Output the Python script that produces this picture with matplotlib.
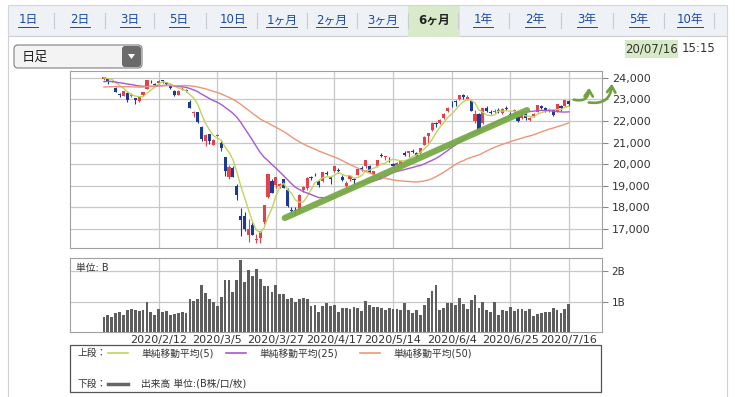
import matplotlib
matplotlib.use('Agg')
import matplotlib.pyplot as plt
import numpy as np
import pandas as pd
from matplotlib.patches import Rectangle, FancyBboxPatch, Polygon, FancyArrowPatch

plt.rcParams['font.family'] = ['DejaVu Sans', 'Noto Sans CJK JP']

# 日足 2020/1/22 - 2020/7/16
opens = [23930, 23990, 23800, 23530, 23230, 23160, 23310, 23140, 23060, 22900,
         23200, 23500, 23830, 23690, 23740, 23880, 23780, 23600, 23400, 23200,
         23450, 23430, 22880, 22350, 22400, 21700, 21050, 21400, 20900, 21300,
         21000, 20340, 19400, 19800, 19000, 17600, 17600, 16700, 17200, 16500,
         16570, 17300, 18460, 19200, 19020, 19000, 19300, 18800, 17900, 17900,
         17860, 18800, 18900, 19400, 19500, 19200, 19200, 19600, 19400, 19700,
         19750, 19400, 19000, 19300, 19300, 19500, 19800, 19900, 19900, 19500,
         19900, 20400, 20350, 20300, 20000, 19950, 20000, 20500, 20500, 20600,
         20500, 20500, 20900, 21300, 21600, 21900, 21900, 22150, 22450, 22700,
         22900, 23000, 23200, 23000, 22900, 22000, 22300, 21900, 22600, 22400,
         22400, 22500, 22350, 22600, 22300, 22450, 22200, 22150, 22300, 22050,
         22250, 22400, 22700, 22600, 22500, 22500, 22400, 22700, 22700, 22900]
highs = [24040, 24000, 23860, 23560, 23280, 23400, 23320, 23290, 23070, 23130,
         23360, 23900, 23880, 23750, 23890, 23900, 23810, 23680, 23450, 23420,
         23560, 23500, 22960, 22480, 22400, 21760, 21380, 21400, 21160, 21400,
         21060, 20350, 19980, 19930, 19100, 17990, 17790, 17450, 17300, 16770,
         16890, 18100, 19560, 19300, 19390, 19150, 19330, 18900, 18000, 18000,
         18600, 19000, 19400, 19450, 19600, 19250, 19650, 19700, 19450, 19920,
         19800, 19500, 19200, 19450, 19350, 19800, 19900, 20200, 19950, 19700,
         20200, 20500, 20400, 20350, 20050, 20100, 20200, 20600, 20600, 20700,
         20550, 20750, 21300, 21450, 21950, 21950, 22100, 22350, 22650, 22900,
         22950, 23200, 23250, 23200, 22950, 22500, 22350, 22600, 22700, 22500,
         22550, 22600, 22600, 22700, 22400, 22550, 22250, 22400, 22350, 22200,
         22350, 22750, 22750, 22650, 22600, 22550, 22800, 22750, 22950, 22950]
lows = [23900, 23730, 23780, 23330, 23110, 23150, 22890, 23100, 22775, 22880,
        23140, 23480, 23750, 23630, 23720, 23760, 23640, 23500, 23140, 23180,
        23420, 23360, 22600, 22200, 21900, 21080, 20850, 20950, 20880, 21280,
        20610, 19470, 19300, 19390, 18340, 16690, 16920, 16380, 16720, 16360,
        16360, 17250, 18440, 18650, 18900, 18900, 18900, 18000, 17700, 17650,
        17800, 18700, 18800, 19250, 19450, 18950, 19170, 19500, 19100, 19650,
        19600, 19200, 18950, 19200, 19100, 19480, 19700, 19800, 19600, 19450,
        19850, 20350, 20200, 20100, 19800, 19900, 19950, 20400, 20350, 20500,
        20300, 20450, 20900, 21000, 21550, 21700, 21850, 22100, 22400, 22650,
        22700, 22950, 23000, 22950, 22450, 21900, 21500, 21850, 22400, 22300,
        22350, 22350, 22300, 22500, 22250, 22400, 21950, 22100, 22050, 22000,
        22200, 22400, 22550, 22400, 22400, 22250, 22400, 22450, 22650, 22700]
closes = [24031, 23795, 23827, 23343, 23215, 23379, 22977, 23205, 22971, 23084,
          23319, 23873, 23827, 23685, 23861, 23827, 23687, 23523, 23194, 23400,
          23479, 23386, 22605, 22426, 21948, 21142, 21344, 21082, 21100, 21329,
          20749, 19698, 19867, 19416, 18559, 17431, 17002, 17011, 16726, 16552,
          16887, 18092, 19546, 18665, 19389, 19084, 18917, 18065, 17818, 17820,
          18576, 18950, 19353, 19345, 19498, 19043, 19638, 19550, 19290, 19897,
          19669, 19281, 19138, 19429, 19262, 19783, 19771, 20193, 19619, 19674,
          20179, 20390, 20366, 20267, 19914, 20037, 20133, 20433, 20595, 20552,
          20388, 20741, 21271, 21419, 21916, 21877, 22062, 22325, 22613, 22695,
          22863, 23178, 23091, 23124, 22472, 22305, 21530, 22582, 22455, 22355,
          22478, 22437, 22549, 22534, 22259, 22512, 21995, 22288, 22121, 22145,
          22306, 22714, 22614, 22438, 22529, 22291, 22784, 22587, 22945, 22770]
# 出来高 (B株)
volume = [0.50, 0.55, 0.49, 0.62, 0.66, 0.56, 0.72, 0.76, 0.71, 0.70,
          0.72, 0.99, 0.66, 0.56, 0.76, 0.66, 0.69, 0.55, 0.58, 0.62,
          0.65, 0.62, 1.07, 1.02, 1.08, 1.55, 1.28, 1.08, 0.99, 0.87,
          1.16, 1.72, 1.71, 1.30, 1.71, 2.38, 1.63, 2.03, 1.84, 2.06,
          1.74, 1.51, 1.51, 1.31, 1.55, 1.26, 1.26, 1.10, 1.13, 0.99,
          1.10, 1.13, 1.08, 0.87, 0.90, 0.67, 0.84, 0.95, 0.84, 0.90,
          0.67, 0.80, 0.78, 0.77, 0.83, 0.78, 0.69, 1.03, 0.88, 0.83,
          0.83, 0.78, 0.71, 0.80, 0.77, 0.74, 0.71, 0.94, 0.71, 0.61,
          0.71, 0.55, 0.88, 1.12, 1.35, 1.54, 0.72, 0.78, 0.94, 0.94,
          0.88, 1.11, 0.91, 0.74, 1.06, 1.23, 0.78, 0.99, 0.72, 0.65,
          0.97, 0.57, 0.72, 0.69, 0.82, 0.69, 0.77, 0.77, 0.69, 0.74,
          0.54, 0.59, 0.63, 0.65, 0.65, 0.80, 0.72, 0.63, 0.77, 0.91]
# closes of the 49 sessions before 1/22, only feed the moving averages
prior_closes = [23330, 23392, 23331, 23520, 23320, 23141, 23303, 23417, 23293, 23148,
                23038, 23113, 23292, 23373, 23437, 23409, 23293,
                23529, 23379, 23135, 23300, 23354, 23430, 23410, 23391, 23424, 24023,
                23952, 24066, 23934, 23864, 23816, 23821, 23830, 23782, 23924, 23837,
                23656,
                23204, 23575, 23204, 23739, 23850, 24025, 23916, 23933, 24041, 24083,
                23864]

tick_pos = [14, 29, 44, 59, 74, 89, 104, 119]
tick_labels = ['2020/2/12', '2020/3/5', '2020/3/27', '2020/4/17',
               '2020/5/14', '2020/6/4', '2020/6/25', '2020/7/16']
price_ticks = [17000, 18000, 19000, 20000, 21000, 22000, 23000, 24000]
vol_ticks = [1, 2]
vol_tick_labels = ['1B', '2B']
tabs = ['1日', '2日', '3日', '5日', '10日', '1ヶ月', '2ヶ月', '3ヶ月', '6ヶ月',
        '1年', '2年', '3年', '5年', '10年']
tab_x = [28, 80, 130, 179, 233, 282, 332, 383, 434, 483, 535, 587, 639, 690]
ma_periods = [5, 25, 50]
ma_colors = ['#c3d45a', '#a858d0', '#ea9778']

W, H = 735, 397
fig = plt.figure(figsize=(W / 100, H / 100), dpi=100)
fig.patch.set_facecolor('white')

# background layer in pixel coordinates
bg = fig.add_axes([0, 0, 1, 1], zorder=0)
bg.set_xlim(0, W)
bg.set_ylim(H, 0)
bg.axis('off')

bg.add_patch(Rectangle((8, 5), 719, 31, facecolor='#eef2f6', edgecolor='#cfd6de', lw=0.8))
bg.add_patch(Rectangle((8, 36), 719, 370, facecolor='white', edgecolor='#cfcfcf', lw=0.8))
bg.add_patch(Rectangle((408, 6), 52, 31, facecolor='#d9eacb', edgecolor='none'))
tab_texts = []
for i, (lab, x) in enumerate(zip(tabs, tab_x)):
    active = lab == '6ヶ月'
    t = bg.text(x, 20, lab, ha='center', va='center', fontsize=8.5,
                color='#222222' if active else '#1a4aa0',
                fontweight='bold' if active else 'normal')
    tab_texts.append((t, active))
    if i < len(tabs) - 1:
        sx = (x + tab_x[i + 1]) / 2
        bg.plot([sx, sx], [13, 28], color='#c8ccd2', lw=0.8)
bg.plot([714, 714], [13, 28], color='#c8ccd2', lw=0.8)

# dropdown
bg.add_patch(FancyBboxPatch((14, 45), 128, 23, boxstyle='round,pad=0,rounding_size=4',
                            facecolor='#f3f3f3', edgecolor='#8c8c8c', lw=0.9))
bg.add_patch(FancyBboxPatch((122, 46), 19, 21, boxstyle='round,pad=0,rounding_size=3',
                            facecolor='#6a6a6a', edgecolor='none'))
bg.add_patch(Polygon([(128, 54), (135, 54), (131.5, 59)], closed=True, facecolor='white'))
bg.text(22, 57, '日足', ha='left', va='center', fontsize=9.5, color='#222222')

# timestamp
bg.add_patch(Rectangle((625, 40), 53, 18, facecolor='#d6eac6', edgecolor='none'))
bg.text(651.5, 49, '20/07/16', ha='center', va='center', fontsize=8.5, color='#333333')
bg.text(682, 49, '15:15', ha='left', va='center', fontsize=8.5, color='#333333')

# legend box
bg.add_patch(Rectangle((70, 345), 531, 47, facecolor='white', edgecolor='#555555', lw=0.9))
bg.text(78, 353, '上段：', ha='left', va='center', fontsize=7, color='#333333')
leg_x = [108, 226, 360]
for lx, p, c in zip(leg_x, ma_periods, ma_colors):
    bg.plot([lx, lx + 20], [353, 353], color=c, lw=1.2)
    bg.text(lx + 33, 353, f'単純移動平均({p})', ha='left', va='center', fontsize=7, color='#333333')
bg.text(78, 384, '下段：', ha='left', va='center', fontsize=7, color='#333333')
bg.plot([108, 128], [384, 384], color='#666666', lw=2.5)
bg.text(141, 384, '出来高 単位:(B株/口/枚)', ha='left', va='center', fontsize=7, color='#333333')

# price chart
x = np.arange(len(closes))
o = np.array(opens)
c = np.array(closes)
up = c >= o
col = np.where(up, '#e6404c', '#1c3a94')

ax = fig.add_axes([70 / W, 1 - 248 / H, 532 / W, 177 / H], zorder=2)
ax.set_xlim(-8.7, 127.5)
ax.set_ylim(16120, 24310)
ax.set_axisbelow(True)
ax.vlines(x, lows, highs, colors=col, lw=0.8, zorder=2)
ax.bar(x, np.maximum(np.abs(c - o), 18), bottom=np.minimum(o, c), width=0.8,
       color=col, edgecolor='none', zorder=3)

all_close = pd.Series(prior_closes + closes)
for p, mc in zip(ma_periods, ma_colors):
    ma = all_close.rolling(p).mean().iloc[len(prior_closes):].to_numpy()
    ax.plot(x, ma, color=mc, lw=1.0, zorder=4)

# hand-drawn trend line
ax.plot([46.3, 108.3], [17510, 22500], color='#78aa46', lw=4.5,
        solid_capstyle='round', alpha=0.95, zorder=5)

ax.set_xticks(tick_pos)
ax.set_xticklabels([])
ax.set_yticks(price_ticks)
ax.set_yticklabels([f'{v:,}' for v in price_ticks])
ax.yaxis.tick_right()
ax.tick_params(axis='y', length=4, color='#888888', labelsize=8, labelcolor='#333333', pad=3)
ax.tick_params(axis='x', length=0)
ax.grid(True, color='#c8c8c8', lw=0.9)
for s in ax.spines.values():
    s.set_color('#a0a0a0')
    s.set_linewidth(0.8)

# volume chart
axv = fig.add_axes([70 / W, 1 - 332 / H, 532 / W, 74 / H], zorder=2)
axv.set_xlim(-8.7, 127.5)
axv.set_ylim(0, 2.43)
axv.set_axisbelow(True)
axv.bar(x, volume, width=0.72, color='#5e5e5e', edgecolor='none')
axv.set_xticks(tick_pos)
axv.set_xticklabels(tick_labels)
axv.set_yticks(vol_ticks)
axv.set_yticklabels(vol_tick_labels)
axv.yaxis.tick_right()
axv.tick_params(axis='y', length=4, color='#888888', labelsize=7.5, labelcolor='#333333', pad=3)
axv.tick_params(axis='x', length=0, labelsize=8, labelcolor='#333333', pad=2)
axv.grid(True, color='#c8c8c8', lw=0.9)
axv.text(0.012, 0.93, '単位: B', transform=axv.transAxes, ha='left', va='top',
         fontsize=7, color='#333333')
for s in axv.spines.values():
    s.set_color('#a0a0a0')
    s.set_linewidth(0.8)

# hand-drawn arrows on top
top = fig.add_axes([0, 0, 1, 1], zorder=6)
top.set_xlim(0, W)
top.set_ylim(H, 0)
top.axis('off')
top.patch.set_alpha(0)
for a, b, rad in [((571, 99), (589, 85), 0.7), ((586, 102), (612, 81), 0.6)]:
    top.add_patch(FancyArrowPatch(a, b, connectionstyle=f'arc3,rad={rad}',
                                  arrowstyle='->,head_length=4.5,head_width=3',
                                  color='#6fa040', lw=1.9))

# underline the tab links
fig.canvas.draw()
inv = bg.transData.inverted()
for t, active in tab_texts:
    if active:
        continue
    bb = t.get_window_extent()
    (x0, y0), (x1, y1) = inv.transform([(bb.x0, bb.y0), (bb.x1, bb.y1)])
    bg.plot([x0, x1], [y0 + 0.5, y0 + 0.5], color='#1a4aa0', lw=0.7)

fig.savefig('out.png', dpi=100)
